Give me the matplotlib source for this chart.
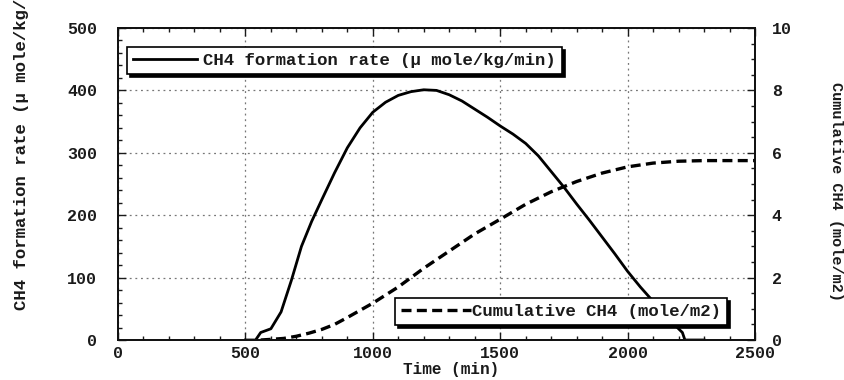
import matplotlib
matplotlib.use('Agg')
import matplotlib.pyplot as plt
from matplotlib.ticker import MultipleLocator

# Font used for every text: monospace, rather wide
plt.rcParams['font.family'] = ['Liberation Mono', 'DejaVu Sans Mono']
plt.rcParams['font.weight'] = 'bold'

# CH4 formation rate (micro mole/kg/min)
rate_time = [500, 540, 560, 600, 640, 680, 720, 760, 800, 850, 900, 950,
             1000, 1050, 1100, 1150, 1200, 1250, 1300, 1350, 1400, 1450,
             1500, 1550, 1600, 1650, 1700, 1750, 1800, 1850, 1900, 1950,
             2000, 2050, 2100, 2150, 2200, 2215, 2225, 2300]
rate_value = [0, 0, 12, 18, 45, 95, 150, 190, 225, 268, 308, 340,
              365, 381, 392, 398, 401, 400, 393, 383, 370, 357,
              343, 330, 315, 295, 270, 245, 218, 192, 165, 138,
              110, 85, 62, 40, 18, 12, 0, 0]

# Cumulative CH4 (mole/m2)
cum_time = [560, 600, 650, 700, 750, 800, 850, 900, 950, 1000, 1100, 1200,
            1300, 1400, 1500, 1600, 1700, 1800, 1900, 2000, 2100, 2200,
            2300, 2500]
cum_value = [0, 0.02, 0.05, 0.12, 0.22, 0.34, 0.5, 0.72, 0.95, 1.18, 1.7, 2.3,
             2.85, 3.4, 3.87, 4.35, 4.75, 5.08, 5.35, 5.55, 5.67, 5.73,
             5.75, 5.75]

rate_label = 'CH4 formation rate (\u03bc mole/kg/min)'
cum_label = 'Cumulative CH4 (mole/m2)'

W, H = 845, 380
fig = plt.figure(figsize=(W / 100, H / 100), dpi=100)
ax = fig.add_axes([118 / W, 40 / H, 637 / W, 312 / H])
ax2 = ax.twinx()

text_color = '#1a1a1a'

# Curves
l1, = ax.plot(rate_time, rate_value, color='black', lw=2.0, label=rate_label)
l2, = ax2.plot(cum_time, cum_value, color='black', lw=2.4,
               dashes=(3.0, 1.6), label=cum_label)

# Axes limits and ticks
ax.set_xlim(0, 2500)
ax.set_ylim(0, 500)
ax2.set_ylim(0, 10)
ax.xaxis.set_major_locator(MultipleLocator(500))
ax.xaxis.set_minor_locator(MultipleLocator(100))
ax.yaxis.set_major_locator(MultipleLocator(100))
ax.yaxis.set_minor_locator(MultipleLocator(20))
ax2.yaxis.set_major_locator(MultipleLocator(2))
ax2.yaxis.set_minor_locator(MultipleLocator(0.5))

ax.tick_params(axis='x', which='both', direction='in', top=True,
               labelsize=12, pad=4, colors=text_color)
ax.tick_params(axis='y', which='both', direction='in', right=False,
               labelsize=12, pad=15, colors=text_color)
ax2.tick_params(axis='y', which='both', direction='in',
                labelsize=12, pad=12, colors=text_color)
for a in (ax, ax2):
    a.tick_params(which='major', length=6, width=1)
    a.tick_params(which='minor', length=3, width=1)
    for s in a.spines.values():
        s.set_linewidth(1.3)
        s.set_color('#111111')

# Dotted grid at major ticks
ax.grid(True, which='major', color='#777777', lw=0.9,
        linestyle=(0, (1.5, 3)))

# Axis titles
fig.text(451 / W, 1 - 362 / H, 'Time (min)', ha='center', va='top',
         fontsize=11.5, color=text_color)
fig.text(22 / W, 1 - 310 / H, rate_label, rotation=90, ha='center',
         va='bottom', fontsize=12.5, color=text_color)
fig.text(836 / W, 1 - 192 / H, cum_label, rotation=270, ha='center',
         va='center', fontsize=11, color=text_color)

# Boxed legends with a hard black shadow
shadow = {'facecolor': 'black', 'edgecolor': 'black', 'alpha': 1}
leg1 = ax2.legend(handles=[l1], loc='upper left',
                  bbox_to_anchor=(127 / W, 1 - 47 / H), bbox_transform=fig.transFigure,
                  fontsize=12.5, frameon=True, fancybox=False, shadow=shadow,
                  edgecolor='black', framealpha=1, handlelength=3.7,
                  handletextpad=0.35, borderpad=0.35, borderaxespad=0)
leg1.get_frame().set_linewidth(1.2)
ax2.add_artist(leg1)
leg2 = ax2.legend(handles=[l2], loc='upper left',
                  bbox_to_anchor=(395 / W, 1 - 298 / H), bbox_transform=fig.transFigure,
                  fontsize=12.5, frameon=True, fancybox=False, shadow=shadow,
                  edgecolor='black', framealpha=1, handlelength=4.0,
                  handletextpad=0.1, borderpad=0.35, borderaxespad=0)
leg2.get_frame().set_linewidth(1.2)
for leg in (leg1, leg2):
    for t in leg.get_texts():
        t.set_color(text_color)

fig.savefig('out.png', dpi=100)
